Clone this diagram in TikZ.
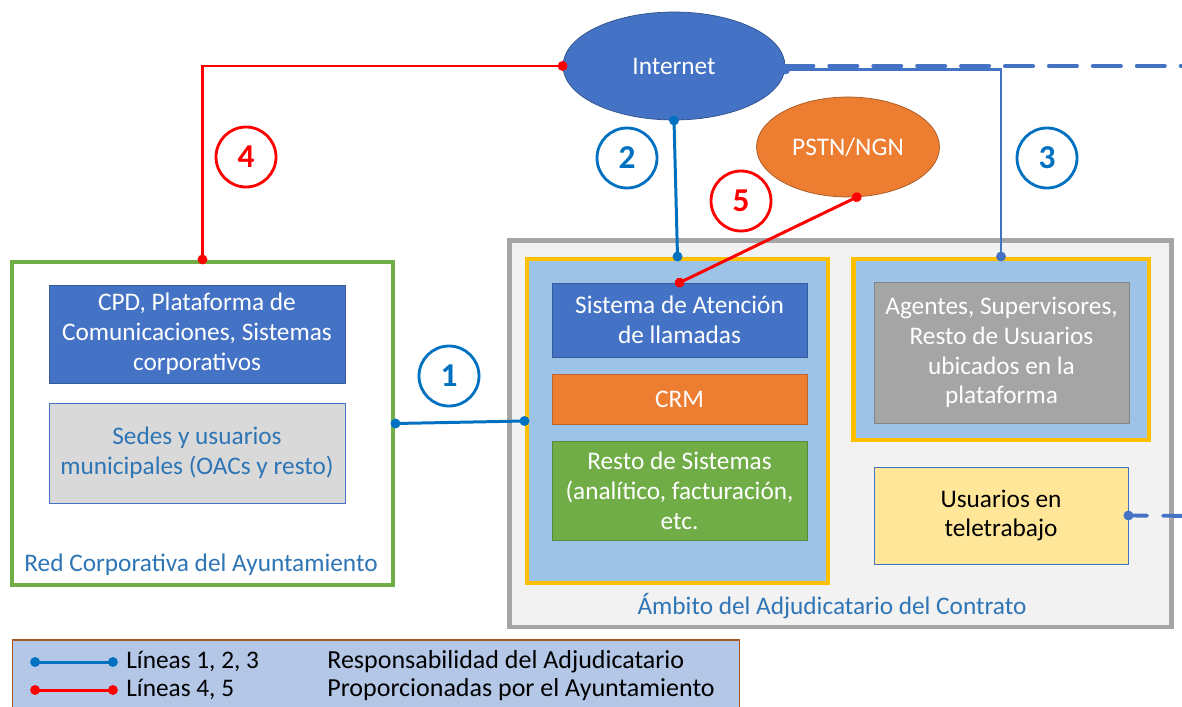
\documentclass[tikz,border=0pt]{standalone}
\usepackage{fontspec}
\setmainfont{Carlito}
\usepackage{xcolor}
\usepackage{tikz}
\usetikzlibrary{shapes.geometric}
\usetikzlibrary{arrows.meta}
\usetikzlibrary{positioning}
\definecolor{mblue}{HTML}{4472C4}
\definecolor{lblue}{HTML}{0070C0}
\definecolor{tblue}{HTML}{2E75B6}
\definecolor{mgreen}{HTML}{70AD47}
\definecolor{morange}{HTML}{ED7D31}
\definecolor{mgold}{HTML}{FFC000}
\definecolor{skyb}{HTML}{9DC3E6}
\definecolor{mgrey}{HTML}{A5A5A5}
\definecolor{lgrey}{HTML}{D9D9D9}
\definecolor{bggrey}{HTML}{F2F2F2}
\definecolor{paleyel}{HTML}{FFE699}
\definecolor{legbg}{HTML}{B4C7E7}
\definecolor{mred}{HTML}{FF0000}
\tikzset{
    box/.style = {rectangle, align=center, inner sep=2pt, font=\fontsize{14.4}{17}\selectfont},
    cloud/.style = {ellipse, inner sep=0pt, text=white, font=\fontsize{14.4}{17}\selectfont},
    frame/.style = {rectangle, line width=2.8pt},
    numb/.style = {circle, line width=1.6pt, minimum size=1.2cm, inner sep=0pt, fill=white, font=\fontsize{19}{20}\selectfont\bfseries},
    lab/.style = {text=tblue, font=\fontsize{14.4}{17}\selectfont},
    legtext/.style = {anchor=base west, inner sep=0pt, font=\fontsize{14.8}{17}\selectfont},
    linkb/.style = {{Circle[length=5.5pt]}-{Circle[length=5.5pt]}, line width=1.7pt, lblue, shorten <=-2.7pt, shorten >=-2.7pt},
    linkr/.style = {linkb, mred},
    extern/.style = {mblue, line width=2.2pt, line cap=round, dash pattern=on 16pt off 9pt},
}

\begin{document}
\begin{tikzpicture}[x=0.02cm, y=-0.02cm]
\useasboundingbox[fill=white] (0,0) rectangle (1182,706);
% frames
\node[frame, draw=mgreen, fill=white, minimum width=7.62cm, minimum height=6.46cm] at (202.5,423.5) (corp) {};
\node[frame, draw=mgrey, fill=bggrey, minimum width=13.26cm, minimum height=7.74cm] at (840.5,433.5) (amb) {};
\node[frame, draw=mgold, fill=skyb, minimum width=6.02cm, minimum height=6.48cm] at (677.5,421) (plat) {};
\node[frame, draw=mgold, fill=skyb, minimum width=5.92cm, minimum height=3.62cm] at (1001,349.5) (puestos) {};
%
\node[box, fill=mblue, draw=mblue!80!black, text=white, minimum width=5.92cm, minimum height=1.96cm] at (197,334) (cpd) {CPD, Plataforma de\\Comunicaciones, Sistemas\\corporativos};
\node[box, fill=lgrey, draw=mblue, text=tblue, minimum width=5.92cm, minimum height=2.0cm] at (197,453) (sedes) {Sedes y usuarios\\municipales (OACs y resto)};
\node[lab] at (201,565) (corplab) {Red Corporativa del Ayuntamiento};
\node[lab] at (832,606) (amblab) {Ámbito del Adjudicatario del Contrato};
%
\node[box, fill=mblue, draw=mblue!80!black, text=white, minimum width=5.1cm, minimum height=1.48cm] at (679.5,320) (sat) {Sistema de Atención\\de llamadas};
\node[box, fill=morange, draw=morange!80!black, text=white, minimum width=5.1cm, minimum height=1.0cm] at (679.5,399) (crm) {CRM};
\node[box, fill=mgreen, draw=mgreen!80!black, text=white, minimum width=5.1cm, minimum height=1.98cm] at (679.5,490.5) (resto) {Resto de Sistemas\\(analítico, facturación,\\etc.};
\node[box, fill=mgrey, draw=mgrey!80!black, text=white, minimum width=5.1cm, minimum height=2.82cm] at (1001.5,352.5) (agentes) {Agentes, Supervisores,\\Resto de Usuarios\\ubicados en la\\plataforma};
\node[box, fill=paleyel, draw=mblue, text=black, minimum width=5.08cm, minimum height=1.94cm] at (1001,515.5) (tele) {Usuarios en\\teletrabajo};
%
\node[cloud, fill=mblue, draw=mblue!70!black, minimum width=4.44cm, minimum height=2.16cm] at (674,66) (inet) {Internet};
\node[cloud, fill=morange, draw=morange!70!black, minimum width=3.66cm, minimum height=2.0cm] at (848,147) (pstn) {PSTN/NGN};
% lines
\draw[linkr] (inet.west) -| (corp.north);
\draw[linkb] (inet.south) -- (plat.north);
\draw[linkb, mblue, line width=1.3pt] ([yshift=-0.07cm]inet.east) -| (puestos.north);
\draw[linkr] (pstn.-80) -- (sat.north);
\draw[linkb] (corp.east) -- (plat.west);
% external dashed links
\coordinate (inetout) at (1200,66);
\coordinate (teleout) at (1200,516);
\draw[extern] (inet.east) -- (inetout);
\draw[extern, dash pattern=on 9pt off 9pt on 16pt off 9pt, {Circle[length=5.5pt]}-, shorten <=-2.7pt] (tele.east) -- (teleout);
% numbers
\node[numb, draw=mred, text=mred] at (246,157) (n4) {4};
\node[numb, draw=lblue, text=lblue] at (627,158) (n2) {2};
\node[numb, draw=lblue, text=lblue] at (1047,158) (n3) {3};
\node[numb, draw=mred, text=mred] at (741,201) (n5) {5};
\node[numb, draw=lblue, text=lblue] at (449,376) (n1) {1};
% legend
\node[rectangle, fill=legbg, draw=morange!70!black, line width=0.6pt, minimum width=14.56cm, minimum height=1.6cm] at (376,680) (legend) {};
\coordinate (lb1) at (35,662);
\coordinate (lb2) at (113,662);
\coordinate (lr1) at (35,690);
\coordinate (lr2) at (113,690);
\draw[linkb] (lb1) -- (lb2);
\draw[linkr] (lr1) -- (lr2);
\node[legtext, font=\fontsize{14.4}{17}\selectfont] at (126,668) (lt1) {Líneas 1, 2, 3};
\node[legtext, font=\fontsize{14.4}{17}\selectfont] at (126,696) (lt2) {Líneas 4, 5};
\node[legtext] at (327,668) (ld1) {Responsabilidad del Adjudicatario};
\node[legtext] at (327,696) (ld2) {Proporcionadas por el Ayuntamiento};
\end{tikzpicture}
\end{document}
